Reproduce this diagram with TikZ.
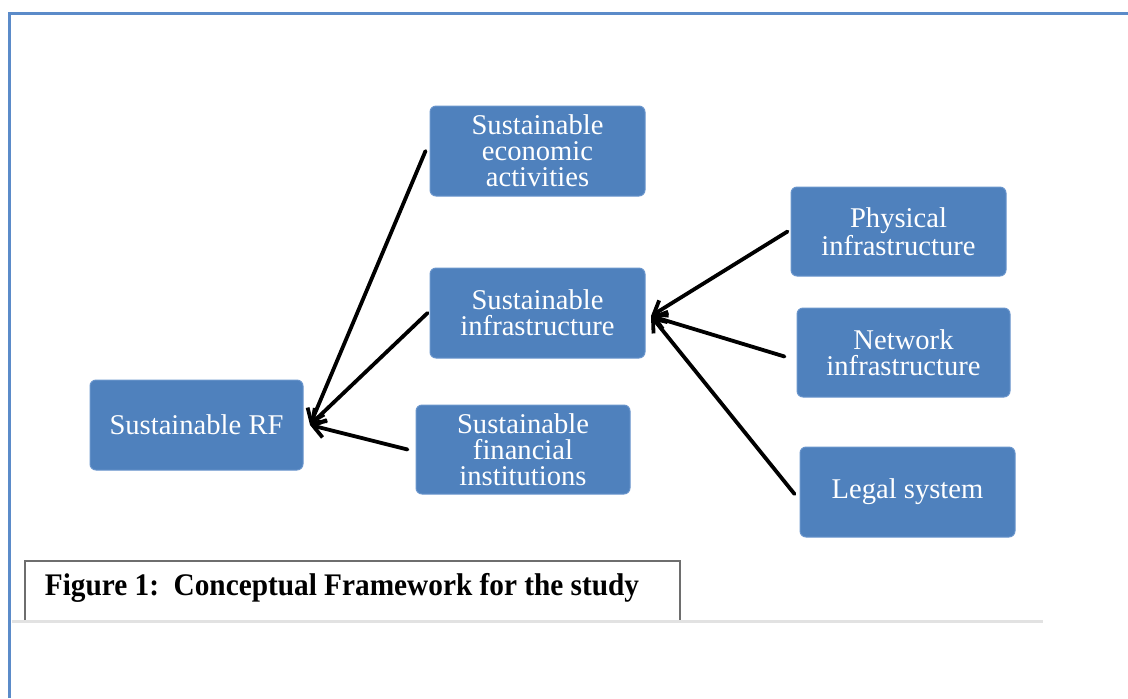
\documentclass[tikz,border=0pt]{standalone}
\usepackage{fontspec}
\setmainfont{Liberation Serif}
\usetikzlibrary{arrows.meta}
\definecolor{boxblue}{HTML}{4F81BD}
\definecolor{boxedge}{HTML}{6A95CC}
\definecolor{framebl}{HTML}{5B8BC9}
\definecolor{rulegray}{HTML}{E2E2E2}
\definecolor{capgray}{HTML}{6E6E6E}
\tikzset{
  blk/.style={rectangle, rounded corners=3pt, fill=boxblue, draw=boxedge, line width=0.5pt,
    text=white, align=center, inner sep=0pt,
    font=\fontsize{14.3}{13}\selectfont},
  arr/.style={line width=1.9pt, draw=black, line cap=round,
    -{Straight Barb[length=6pt,width=9pt,line width=1.9pt]}},
}
\begin{document}
\begin{tikzpicture}[x=0.5pt,y=-0.5pt]
\useasboundingbox (0,0) rectangle (1128,698);
% page frame
\draw[framebl, line width=1.5pt] (9,698) -- (9,13) -- (1128,13);
% gray rule
\draw[rulegray, line width=1.5pt] (12,621) -- (1043,621);
% caption box
\draw[capgray, line width=0.8pt] (25,620) -- (25,561) -- (680,561) -- (680,620);
\node (cap) at (342,588) {\scalebox{0.933}[1]{\fontsize{15.7}{16}\selectfont\bfseries Figure 1:\ \ Conceptual Framework for the study}};
% boxes
\node[blk, minimum width=107.5pt, minimum height=45pt] (econ) at (537.5,151) {Sustainable\\economic\\activities};
\node[blk, minimum width=107.5pt, minimum height=45pt] (infra) at (537.5,313) {Sustainable\\infrastructure};
\node[blk, minimum width=107pt, minimum height=44.5pt] (fin) at (523,449.5) {Sustainable\\financial\\institutions};
\node[blk, minimum width=106.5pt, minimum height=45pt] (rf) at (196.5,425) {Sustainable RF};
\node[blk, minimum width=107.5pt, minimum height=44.5pt] (phys) at (898.5,231.5) {Physical\\infrastructure};
\node[blk, minimum width=106.5pt, minimum height=44.5pt] (net) at (903.5,352.5) {Network\\infrastructure};
\node[blk, minimum width=107.5pt, minimum height=45pt] (legal) at (907.5,492) {Legal system};
% arrow targets
\coordinate (rfin) at (310,425);
\coordinate (infin) at (651,316);
% arrows
\draw[arr] ([xshift=-2pt]econ.west) -- (rfin);
\draw[arr] ([xshift=-1pt]infra.west) -- (rfin);
\draw[arr] ([xshift=-4pt]fin.west) -- (rfin);
\draw[arr] ([xshift=-1.5pt]phys.west) -- (infin);
\draw[arr] ([xshift=-6pt,yshift=-2pt]net.west) -- (infin);
\draw[arr] ([xshift=-2.5pt,yshift=-1pt]legal.west) -- (infin);
\end{tikzpicture}
\end{document}
